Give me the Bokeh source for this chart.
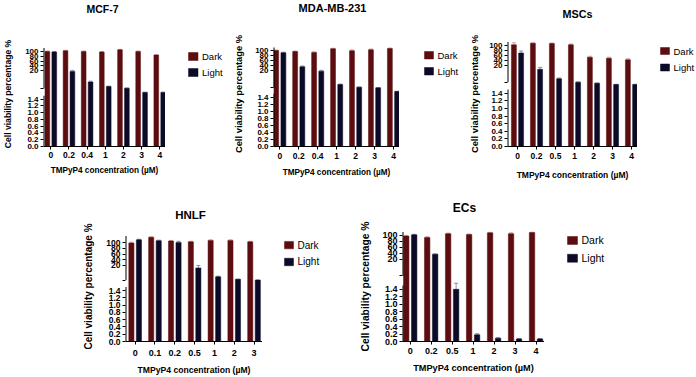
from bokeh.core.properties import value
from bokeh.embed import file_html
from bokeh.layouts import column, row
from bokeh.models import (ColumnDataSource, CustomJSTickFormatter, CustomJSTransform,
                          FixedTicker, Range1d, Spacer, TeeHead, Whisker)
from bokeh.plotting import figure
from bokeh.resources import INLINE
from bokeh.transform import dodge, transform

FONT = "Liberation Sans"
DARK_COLOR = "#5c0d0f"
LIGHT_COLOR = "#0b0b28"
DARK_ERR_COLOR = "#c9a3a3"
LIGHT_ERR_COLOR = "#8d8da3"

# Broken y axis: lower segment 0-1.5, upper segment starts at 2 (labelled 20-100)
AXIS_VALUES = [0, 1.5, 2, 20, 100]
LOW_TICKS = [0.0, 0.2, 0.4, 0.6, 0.8, 1.0, 1.2, 1.4]
HIGH_TICKS = [20, 40, 60, 80, 100]
SERIES = ["Dark", "Light"]
SERIES_COLORS = [DARK_COLOR, LIGHT_COLOR]

# ---- cell viability (%) ----
MCF7_CONC = ["0", "0.2", "0.4", "1", "2", "3", "4"]
MCF7_DARK = [100, 103, 100, 98, 107, 100, 85]
MCF7_DARK_ERR = [2, 2, 2, 2, 2, 2, 2]
MCF7_LIGHT = [98, 19, 8.5, 4.0, 2.3, 1.73, 1.73]
MCF7_LIGHT_ERR = [2, 1.5, 0.8, 0.4, 0.2, 0.02, 0.02]

MDA_CONC = ["0", "0.2", "0.4", "1", "2", "3", "4"]
MDA_DARK = [100, 96, 92, 107, 99, 103, 108]
MDA_DARK_ERR = [2, 2, 3, 2, 3, 3, 2]
MDA_LIGHT = [91, 35, 19.3, 5.4, 2.6, 2.0, 1.69]
MDA_LIGHT_ERR = [2, 3, 1.5, 0.5, 0.3, 0.1, 0.02]

MSC_CONC = ["0", "0.2", "0.5", "1", "2", "3", "4"]
MSC_DARK = [101, 107, 106, 101, 51, 47, 41]
MSC_DARK_ERR = [8, 2, 2, 3, 4, 4, 4]
MSC_LIGHT = [68, 15.5, 5.6, 2.0, 1.93, 1.84, 1.84]
MSC_LIGHT_ERR = [8, 2, 0.8, 0.3, 0.02, 0.02, 0.02]

HNLF_CONC = ["0", "0.1", "0.2", "0.5", "1", "2", "3"]
HNLF_DARK = [99, 119, 106, 103, 108, 108, 103]
HNLF_DARK_ERR = [3, 2, 2, 2, 2, 2, 2]
HNLF_LIGHT = [110, 107, 101, 17, 6, 2.9, 2.0]
HNLF_LIGHT_ERR = [2, 2, 4, 3, 0.8, 0.3, 0.1]

EC_CONC = ["0", "0.2", "0.5", "1", "2", "3", "4"]
EC_DARK = [98, 93, 106, 103, 109, 106, 110]
EC_DARK_ERR = [2, 3, 2, 2, 2, 3, 2]
EC_LIGHT = [102, 37, 1.40, 0.18, 0.09, 0.07, 0.07]
EC_LIGHT_ERR = [2, 1, 0.22, 0.03, 0.01, 0.01, 0.01]

DATA = {
    "MCF-7": (MCF7_CONC, MCF7_DARK, MCF7_DARK_ERR, MCF7_LIGHT, MCF7_LIGHT_ERR),
    "MDA-MB-231": (MDA_CONC, MDA_DARK, MDA_DARK_ERR, MDA_LIGHT, MDA_LIGHT_ERR),
    "MSCs": (MSC_CONC, MSC_DARK, MSC_DARK_ERR, MSC_LIGHT, MSC_LIGHT_ERR),
    "HNLF": (HNLF_CONC, HNLF_DARK, HNLF_DARK_ERR, HNLF_LIGHT, HNLF_LIGHT_ERR),
    "ECs": (EC_CONC, EC_DARK, EC_DARK_ERR, EC_LIGHT, EC_LIGHT_ERR),
}

# ---- page geometry (pixels) ----
# Each row: a title strip, then the panels; every panel in a row shares the plot-area rows
ROWS = [
    dict(y=0, h=190, head_h=24, frame_top=41, frame_bottom=146, lead=0),
    dict(y=190, h=187, head_h=30, frame_top=231, frame_bottom=342, lead=80),
]
# cell: (x, w) slot of the panel; axis: (left, right) x extent of the bar area; axis_top: top of
# the upper axis piece; knots: pixel rows of AXIS_VALUES; title: centre of the title;
# legend: (swatch left, first swatch top, row pitch, swatch w, swatch h)
PANELS = [
    dict(name="MCF-7", row=0, cell=(0, 230), axis=(40, 165), axis_top=47.5,
         knots=(146, 95.3, 88, 70, 51), c0=47.5, pitch=18.6, title=(102, 8),
         legend=(188, 52, 16, 9.5, 8), fs=dict(title=10.5, ylab=8.6, xlab=8.2, tick=8, xtick=8.5, leg=9.5),
         st=dict(ylab=9, xtick=2, xlab=5)),
    dict(name="MDA-MB-231", row=0, cell=(230, 230), axis=(269, 399), axis_top=47,
         knots=(146, 93.2, 87.3, 70, 50), c0=275.5, pitch=19.55, title=(332, 7),
         legend=(424, 51, 16, 9, 7.5), fs=dict(title=11, ylab=9.4, xlab=8.2, tick=8, xtick=8.5, leg=9.5),
         st=dict(ylab=8, xtick=3, xlab=6)),
    dict(name="MSCs", row=0, cell=(460, 236), axis=(507, 637), axis_top=41.5,
         knots=(146, 89, 81.7, 64.5, 44.5), c0=517, pitch=19, title=(577, 13),
         legend=(660, 47, 16.5, 9, 7), fs=dict(title=10.8, ylab=9.4, xlab=8.5, tick=8, xtick=8.5, leg=9.5),
         st=dict(ylab=6, xtick=3, xlab=8)),
    dict(name="HNLF", row=1, cell=(80, 260), axis=(123, 262), axis_top=235.5,
         knots=(342, 287, 280, 265.3, 242.3), c0=132.8, pitch=20.1, title=(190, 214),
         legend=(284, 241, 17, 9, 7.5), fs=dict(title=11.5, ylab=10, xlab=8.6, tick=8.5, xtick=9, leg=10),
         st=dict(ylab=9, xtick=5, xlab=6)),
    dict(name="ECs", row=1, cell=(340, 356), axis=(402, 544), axis_top=231.5,
         knots=(342, 285.6, 275.7, 259, 235), c0=409.7, pitch=20.97, title=(464, 207),
         legend=(567, 236, 18, 10, 8), fs=dict(title=12, ylab=10.3, xlab=9.2, tick=9, xtick=9, leg=10.5),
         st=dict(ylab=8, xtick=3, xlab=6)),
]

PAGE_W = 696
BAR_OFFSET = 0.19
BAR_WIDTH = 0.26

JS_ONE = """
let j = 0;
while (j < kv.length - 2 && x > kv[j + 1]) j++;
const t = (x - kv[j]) / (kv[j + 1] - kv[j]);
return kp[j] + t * (kp[j + 1] - kp[j]);
"""
JS_MANY = """
const out = new Float64Array(xs.length);
for (let i = 0; i < xs.length; i++) {
  const x = xs[i];
  let j = 0;
  while (j < kv.length - 2 && x > kv[j + 1]) j++;
  const t = (x - kv[j]) / (kv[j + 1] - kv[j]);
  out[i] = kp[j] + t * (kp[j + 1] - kp[j]);
}
return out;
"""


def seg_map(v, kv, kp):
    """Piecewise-linear broken-axis scale (value -> pixel height above the baseline)."""
    j = 0
    while j < len(kv) - 2 and v > kv[j + 1]:
        j += 1
    t = (v - kv[j]) / (kv[j + 1] - kv[j])
    return kp[j] + t * (kp[j + 1] - kp[j])


def style_text(obj, prefix, size, bold=True):
    setattr(obj, prefix + "_text_font", FONT)
    setattr(obj, prefix + "_text_font_size", f"{size}px")
    setattr(obj, prefix + "_text_font_style", "bold" if bold else "normal")
    setattr(obj, prefix + "_text_color", "black")


def bare(width, height, x_range, y_range, **borders):
    f = figure(width=width, height=height, x_range=x_range, y_range=y_range,
               x_axis_type=None, y_axis_type=None,
               output_backend="svg", toolbar_location=None,
               outline_line_color=None, background_fill_color="white",
               border_fill_color="white", **borders)
    f.xgrid.visible = False
    f.ygrid.visible = False
    return f


def make_head(r, panels):
    """Title strip for one row; data units are page pixels."""
    head = bare(PAGE_W, r["head_h"], Range1d(0, PAGE_W), Range1d(r["y"] + r["head_h"], r["y"]),
                min_border=0)
    for cfg in panels:
        tx, ty = cfg["title"]
        head.text(x=[tx], y=[ty], text=[cfg["name"]], text_align="center",
                  text_baseline="middle", text_color="black", text_font=value(FONT),
                  text_font_size=value(f"{cfg['fs']['title']}px"), text_font_style="bold")
    return head


def make_body(cfg, r):
    conc, dark, dark_err, light, light_err = DATA[cfg["name"]]
    cx, cw = cfg["cell"]
    left, right = cfg["axis"]
    top, bottom = r["frame_top"], r["frame_bottom"]
    body_top = r["y"] + r["head_h"]
    body_h = r["h"] - r["head_h"]
    border_top = top - body_top
    border_bottom = r["y"] + r["h"] - bottom
    fs, st = cfg["fs"], cfg["st"]

    kp = [bottom - k for k in cfg["knots"]]
    height = bottom - top
    c0, pitch = cfg["c0"], cfg["pitch"]
    xs, xe = (left - c0) / pitch, (right - c0) / pitch

    p = figure(width=right - cx, height=body_h,
               x_range=Range1d(xs, xe), y_range=Range1d(0, height),
               output_backend="svg", toolbar_location=None,
               min_border_left=left - cx, min_border_right=0,
               min_border_top=border_top, min_border_bottom=border_bottom,
               outline_line_color=None, background_fill_color="white",
               border_fill_color="white")
    p.xgrid.visible = False
    p.ygrid.visible = False

    scale = CustomJSTransform(args=dict(kv=AXIS_VALUES, kp=kp), func=JS_ONE, v_func=JS_MANY)
    src = ColumnDataSource(dict(
        idx=list(range(len(conc))), conc=conc, dark=dark, light=light,
        dark_hi=[v + e for v, e in zip(dark, dark_err)],
        light_hi=[v + e for v, e in zip(light, light_err)],
    ))
    for col, off, color, ecolor in (("dark", -BAR_OFFSET, DARK_COLOR, DARK_ERR_COLOR),
                                    ("light", BAR_OFFSET, LIGHT_COLOR, LIGHT_ERR_COLOR)):
        p.vbar(x=dodge("idx", off), top=transform(col, scale), bottom=0, width=BAR_WIDTH,
               source=src, fill_color=color, line_color=color, line_width=0.5)
        p.add_layout(Whisker(source=src, base=dodge("idx", off),
                             lower=transform(col, scale), upper=transform(col + "_hi", scale),
                             line_color=ecolor, line_width=1,
                             upper_head=TeeHead(size=4, line_color=ecolor, line_width=1),
                             lower_head=None))

    # y axis: ticks placed through the broken scale, line drawn as two pieces
    tick_vals = LOW_TICKS + [2] + HIGH_TICKS
    tick_pos = [round(seg_map(v, AXIS_VALUES, kp), 3) for v in tick_vals]
    tick_txt = [f"{v:.1f}" for v in LOW_TICKS] + [""] + [str(v) for v in HIGH_TICKS]
    yax = p.yaxis[0]
    yax.ticker = FixedTicker(ticks=tick_pos, minor_ticks=[])
    yax.formatter = CustomJSTickFormatter(args=dict(pos=tick_pos, txt=tick_txt), code="""
        let best = 0, d = Infinity;
        for (let i = 0; i < pos.length; i++) {
          const e = Math.abs(pos[i] - tick);
          if (e < d) { d = e; best = i; }
        }
        return txt[best];
    """)
    yax.axis_line_color = None
    yax.major_tick_out = 3
    yax.major_tick_in = 0
    yax.minor_tick_out = 0
    yax.minor_tick_in = 0
    yax.major_tick_line_color = "black"
    yax.major_label_standoff = 2
    style_text(yax, "major_label", fs["tick"])
    yax.axis_label = "Cell viability percentage %"
    style_text(yax, "axis_label", fs["ylab"])
    yax.axis_label_standoff = int(st["ylab"])

    low_top = seg_map(1.5, AXIS_VALUES, kp)
    up_bottom = seg_map(2, AXIS_VALUES, kp)
    up_top = bottom - cfg["axis_top"]
    p.segment(x0=[xs, xs], y0=[0, up_bottom], x1=[xs, xs], y1=[low_top, up_top],
              line_color="black", line_width=2)

    xax = p.xaxis[0]
    xax.ticker = FixedTicker(ticks=list(range(len(conc))), minor_ticks=[])
    xax.formatter = CustomJSTickFormatter(args=dict(labels=conc),
                                          code="return labels[Math.round(tick)];")
    xax.axis_line_color = "black"
    xax.axis_line_width = 1
    xax.major_tick_out = 3
    xax.major_tick_in = 0
    xax.minor_tick_out = 0
    xax.minor_tick_in = 0
    xax.major_label_standoff = int(st["xtick"])
    style_text(xax, "major_label", fs["xtick"])
    xax.axis_label = "TMPyP4 concentration (µM)"
    style_text(xax, "axis_label", fs["xlab"])
    xax.axis_label_standoff = int(st["xlab"])

    # key strip to the right of the bars (swatch + series name), page-pixel units
    side_w = cx + cw - right
    side = bare(side_w, body_h, Range1d(right, right + side_w), Range1d(bottom, top),
                min_border_left=0, min_border_right=0,
                min_border_top=border_top, min_border_bottom=border_bottom)
    gx, gy, gpitch, gw, gh = cfg["legend"]
    sy0 = [gy + k * gpitch for k in range(len(SERIES))]
    side.quad(left=[gx] * len(SERIES), right=[gx + gw] * len(SERIES),
              top=sy0, bottom=[y + gh for y in sy0],
              fill_color=SERIES_COLORS, line_color=SERIES_COLORS, line_width=0.5)
    side.text(x=[gx + gw + 4] * len(SERIES), y=[y + gh / 2 for y in sy0], text=SERIES,
              text_align="left", text_baseline="middle", text_color="black",
              text_font=value(FONT), text_font_size=value(f"{fs['leg']}px"))
    return [p, side]


blocks = []
for i, r in enumerate(ROWS):
    members = [c for c in PANELS if c["row"] == i]
    items = [Spacer(width=r["lead"], height=r["h"] - r["head_h"])] if r["lead"] else []
    for cfg in members:
        items.extend(make_body(cfg, r))
    blocks.append(make_head(r, members))
    blocks.append(row(*items))

layout = column(*blocks)
open("out.html", "w").write(file_html(layout, INLINE, title="TMPyP4 cell viability"))
